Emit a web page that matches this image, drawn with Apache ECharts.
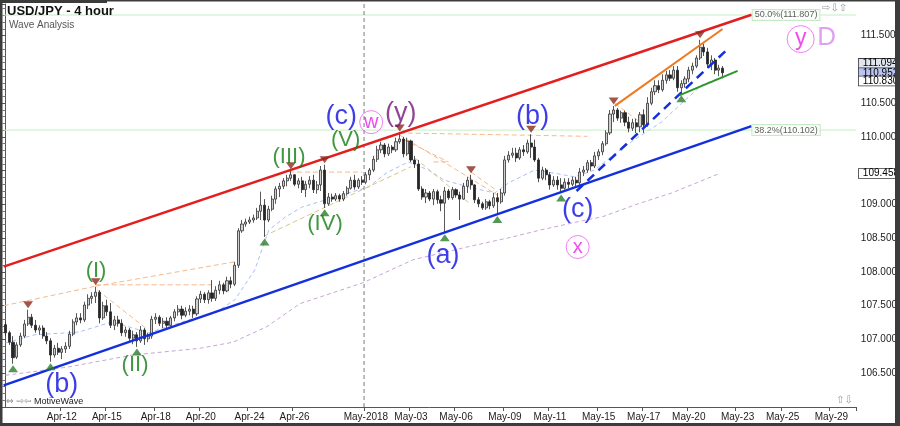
<!DOCTYPE html>
<html><head><meta charset="utf-8">
<script src="https://cdn.jsdelivr.net/npm/echarts@6/dist/echarts.min.js"></script>
<style>html,body{margin:0;padding:0;background:#fff}#c{width:900px;height:426px}</style>
</head><body><div id="c"></div>
<script>
// ---- calendar: trading days and number of 4h bars per day ----
const dayBars = [['Apr-09',3],['Apr-10',6],['Apr-11',6],['Apr-12',6],['Apr-13',6],['Apr-15',1],
['Apr-16',6],['Apr-17',6],['Apr-18',6],['Apr-19',6],['Apr-20',6],['Apr-22',1],
['Apr-23',6],['Apr-24',6],['Apr-25',6],['Apr-26',6],['Apr-27',6],['Apr-29',1],
['Apr-30',6],['May-2018',6],['May-02',6],['May-03',6],['May-04',6],['May-06',1],
['May-07',6],['May-08',6],['May-09',6],['May-10',6],['May-11',6],['May-13',1],
['May-14',6],['May-15',6],['May-16',6],['May-17',6],['May-18',6],['May-20',1],
['May-21',6],['May-22',6],['May-23',6],['May-24',6],['May-25',6],['May-27',1],
['May-28',6],['May-29',6],['May-30',1]];
const tickLabels = ['Apr-12','Apr-15','Apr-18','Apr-20','Apr-24','Apr-26','May-2018','May-03','May-06','May-09','May-11','May-15','May-17','May-20','May-23','May-25','May-29'];
const categories = [];
dayBars.forEach(([d,n]) => { for (let k=0;k<n;k++) categories.push(k===0 ? d : d+'|'+k); });

// ---- USD/JPY 4h candles [open, close, low, high] ----
const candles = [
[107.22,107.10,107.05,107.26],[107.10,106.96,106.92,107.13],[106.96,106.73,106.64,107.05],[106.74,106.92,106.71,106.96],[106.92,107.05,106.89,107.10],
[107.05,107.23,107.02,107.29],[107.23,107.33,107.20,107.44],[107.33,107.21,107.17,107.38],[107.21,107.14,107.10,107.29],[107.14,107.17,107.07,107.21],
[107.17,107.05,107.01,107.21],[107.05,106.98,106.93,107.11],[106.98,106.77,106.67,107.02],[106.77,106.87,106.73,106.92],[106.87,106.81,106.77,106.95],
[106.81,106.86,106.71,106.90],[106.86,106.90,106.80,106.96],[106.90,107.08,106.86,107.13],[107.08,107.26,107.05,107.30],[107.26,107.32,107.21,107.39],
[107.32,107.29,107.24,107.39],[107.29,107.51,107.26,107.56],[107.51,107.61,107.45,107.67],[107.61,107.64,107.53,107.70],[107.64,107.70,107.54,107.78],
[107.70,107.32,107.24,107.73],[107.32,107.50,107.29,107.56],[107.50,107.41,107.35,107.59],[107.41,107.21,107.17,107.54],[107.21,107.29,107.14,107.35],
[107.29,107.24,107.19,107.35],[107.24,107.10,107.05,107.30],[107.10,107.14,107.04,107.19],[107.14,107.02,106.98,107.17],[107.02,107.07,106.93,107.13],
[107.07,106.98,106.89,107.11],[106.98,107.14,106.95,107.20],[107.14,107.01,106.92,107.17],[107.01,107.05,106.96,107.10],[107.05,107.30,107.01,107.35],
[107.30,107.33,107.23,107.39],[107.33,107.24,107.20,107.36],[107.24,107.27,107.17,107.32],[107.27,107.21,107.17,107.33],[107.21,107.32,107.19,107.35],
[107.32,107.41,107.27,107.45],[107.41,107.45,107.35,107.51],[107.45,107.36,107.30,107.50],[107.36,107.42,107.33,107.48],[107.42,107.45,107.36,107.51],
[107.45,107.38,107.32,107.50],[107.38,107.60,107.35,107.64],[107.60,107.67,107.54,107.72],[107.67,107.59,107.54,107.70],[107.59,107.69,107.53,107.73],
[107.69,107.61,107.56,107.88],[107.61,107.73,107.57,107.79],[107.73,107.81,107.67,107.87],[107.81,107.72,107.67,107.84],[107.72,107.87,107.70,107.93],
[107.87,107.82,107.76,107.93],[107.82,108.10,107.79,108.15],[108.10,108.61,108.06,108.65],[108.61,108.71,108.58,108.77],[108.71,108.74,108.67,108.79],
[108.74,108.77,108.71,108.82],[108.77,108.80,108.73,108.85],[108.80,108.90,108.77,108.95],[108.90,108.99,108.77,109.19],[108.99,108.77,108.52,109.08],
[108.77,108.93,108.74,108.98],[108.93,109.08,108.90,109.13],[109.08,109.23,109.01,109.27],[109.23,109.27,109.11,109.32],[109.27,109.35,109.23,109.39],
[109.35,109.39,109.27,109.44],[109.39,109.44,109.35,109.50],[109.44,109.30,109.27,109.45],[109.30,109.35,109.24,109.39],[109.35,109.22,109.17,109.41],
[109.22,109.30,109.11,109.35],[109.30,109.36,109.24,109.42],[109.36,109.22,109.17,109.44],[109.22,109.29,109.16,109.35],[109.29,109.51,109.20,109.57],
[109.51,109.01,108.95,109.59],[109.01,109.11,108.98,109.17],[109.11,109.08,109.04,109.16],[109.08,109.13,109.05,109.17],[109.13,109.08,109.04,109.16],
[109.08,109.16,109.05,109.20],[109.16,109.24,109.13,109.27],[109.24,109.36,109.22,109.41],[109.36,109.26,109.22,109.44],[109.26,109.36,109.23,109.39],
[109.36,109.33,109.29,109.42],[109.33,109.44,109.30,109.48],[109.44,109.51,109.36,109.54],[109.51,109.67,109.48,109.72],[109.67,109.81,109.63,109.87],
[109.81,109.88,109.76,109.93],[109.88,109.75,109.70,109.91],[109.75,109.85,109.72,109.90],[109.85,109.81,109.76,109.88],[109.81,109.93,109.78,109.99],
[109.93,109.97,109.90,110.06],[109.97,109.75,109.70,110.00],[109.75,109.94,109.72,109.99],[109.94,109.66,109.63,109.96],[109.66,109.60,109.54,109.72],
[109.60,109.23,109.20,109.66],[109.23,109.11,109.07,109.27],[109.11,109.17,109.02,109.23],[109.17,109.08,109.05,109.20],[109.08,109.19,108.99,109.23],
[109.19,109.07,109.01,109.22],[109.07,109.02,108.90,109.13],[109.02,109.20,108.58,109.26],[109.20,109.10,109.07,109.23],[109.10,109.22,109.07,109.26],
[109.22,109.14,109.10,109.24],[109.14,109.08,108.77,109.19],[109.08,109.27,109.07,109.32],[109.27,109.36,109.17,109.41],[109.36,109.29,109.22,109.44],
[109.29,109.07,109.02,109.30],[109.07,109.01,108.96,109.11],[109.01,108.95,108.92,109.04],[108.95,109.04,108.92,109.08],[109.04,108.98,108.93,109.07],
[108.98,109.10,108.95,109.17],[109.10,109.04,108.85,109.17],[109.04,109.17,109.01,109.23],[109.17,109.66,109.13,109.72],[109.66,109.73,109.62,109.79],
[109.73,109.76,109.69,109.84],[109.76,109.69,109.63,109.84],[109.69,109.81,109.66,109.85],[109.81,109.78,109.72,109.88],[109.78,109.91,109.75,109.96],
[109.91,109.85,109.69,110.04],[109.85,109.66,109.63,109.96],[109.66,109.39,109.33,109.69],[109.39,109.51,109.36,109.56],[109.51,109.44,109.36,109.54],
[109.44,109.29,109.22,109.48],[109.29,109.36,109.26,109.42],[109.36,109.29,109.22,109.42],[109.29,109.24,109.17,109.39],[109.24,109.33,109.22,109.39],
[109.33,109.30,109.24,109.39],[109.30,109.36,109.27,109.41],[109.36,109.32,109.27,109.41],[109.32,109.48,109.29,109.54],[109.48,109.51,109.42,109.57],
[109.51,109.62,109.47,109.66],[109.62,109.57,109.50,109.66],[109.57,109.72,109.54,109.78],[109.72,109.78,109.66,109.82],[109.78,109.90,109.73,109.94],
[109.90,110.06,109.87,110.10],[110.06,110.34,110.03,110.40],[110.34,110.40,110.22,110.46],[110.40,110.28,110.24,110.43],[110.28,110.36,110.21,110.39],
[110.36,110.22,110.16,110.39],[110.22,110.13,110.07,110.30],[110.13,110.21,110.09,110.27],[110.21,110.15,110.06,110.27],[110.15,110.33,110.07,110.37],
[110.33,110.18,110.06,110.41],[110.18,110.50,110.15,110.59],[110.50,110.67,110.47,110.73],[110.67,110.76,110.62,110.84],[110.76,110.70,110.65,110.84],
[110.70,110.84,110.67,110.93],[110.84,110.92,110.79,110.98],[110.92,110.87,110.83,110.99],[110.87,110.99,110.84,111.05],[110.99,110.73,110.67,111.05],
[110.73,110.79,110.64,110.84],[110.79,110.86,110.73,110.90],[110.86,110.99,110.81,111.04],[110.99,111.05,110.93,111.10],[111.05,111.17,111.02,111.21],
[111.17,111.33,111.14,111.44],[111.33,111.26,111.20,111.38],[111.26,111.08,111.02,111.32],[111.08,111.14,110.99,111.21],[111.14,110.99,110.93,111.17],
[110.99,111.02,110.90,111.07],[111.02,110.95,110.87,111.05]
];

// swing markers (bar indices)
const swingHighs = [6,24,76,85,105,124,140,162,185];
const swingLows  = [2,12,35,69,85,117,131,148,180];

// moving averages [bar, price]
const fastMA = [[0,106.95],[7.8,107.07],[19.5,107.11],[28.3,107.26],[38.2,107.10],[48.8,107.29],[55.7,107.39],[61.1,107.59],
[66.4,108.03],[70.1,108.62],[74.4,108.81],[78.9,108.96],[87.7,109.11],[96.7,109.26],[101.5,109.47],[107.3,109.63],
[112.7,109.51],[116.9,109.36],[123.3,109.26],[130.3,109.17],[134,109.32],[140.9,109.51],[145.5,109.47],[151.6,109.41],
[156.9,109.51],[161.4,109.71],[167.5,109.96],[174.7,110.22],[180.1,110.50],[185.5,110.77],[190.7,110.89]];
const slowMA = [[0,106.47],[16.4,106.59],[33.9,106.77],[51.8,106.87],[60.6,106.96],[69.6,107.19],[78.4,107.53],[95.2,107.84],
[108.5,108.18],[122.9,108.37],[135.1,108.52],[142.3,108.62],[153.8,108.76],[159.1,108.82],[169,109.02],[177.4,109.17],[190.2,109.46]];

// trend lines [bar, price]
const redChannel   = [[-0.5,108.08],[198.7,111.81]];
const blueChannel  = [[-0.5,106.32],[198.7,110.16]];
const orangeTrend  = [[162.3,110.46],[191.0,111.60]];
const blueDashed   = [[152.1,109.20],[192.1,111.29]];
const greenTrend   = [[179.6,110.62],[195.0,110.98]];
const zigzagOrange = [
 [[-0.5,107.50],[24,107.79]], [[24,107.79],[62,108.16]], [[24,107.81],[55,107.81]], [[24.5,107.73],[38,107.14]],
 [[75.5,109.48],[95,109.48]], [[105,110.06],[155,110.01]], [[105,110.03],[131,109.14]], [[106,109.96],[118,109.63]],
 [[114,109.63],[118,109.63]], [[124,109.48],[131,109.20]], [[162.3,110.50],[170,110.18]]];
const zigzagTan = [ [[68.8,108.53],[108,109.56]], [[107.5,109.76],[123.5,109.02]] ];

const fibLevels = [['50.0%(111.807)',111.807],['38.2%(110.102)',110.102]];
const priceTags = [['111.094',111.094,'#dfe6ee'],['110.952',110.952,'#bcc4f2'],['110.830',110.830,'#ffffff'],['109.458',109.458,'#ffffff']];
const hiddenAxisLabels = [106, 109.5, 111];

// wave labels [text, bar, price, kind]
const waveLabels = [
 ['(b)',15.0,106.33,'blue'],['(I)',24.1,108.02,'green'],['(II)',34.5,106.62,'green'],['(III)',75.5,109.70,'green'],
 ['(IV)',85.1,108.71,'green'],['(V)',90.6,109.96,'green'],['(c)',89.4,110.30,'blue'],['w',97.4,110.22,'circle'],
 ['(y)',105.3,110.35,'purple'],['(a)',116.5,108.24,'blue'],['(b)',140.4,110.31,'blue'],['(c)',152.4,108.92,'blue'],
 ['x',152.4,108.37,'circle'],['y',211.8,111.45,'circleBig'],['D',218.7,111.47,'lavender']];

const FONT = '"Liberation Sans", Arial, sans-serif';
const N = categories.length;
const seg = (data, color, width, type, z) => ({
  type:'line', xAxisIndex:1, yAxisIndex:0, data, symbol:'none', silent:true, z:z||3,
  lineStyle:{color, width, type: type||'solid'}, animation:false
});

const kindStyle = {
  blue:{color:'#0c0ce4', fontSize:27}, green:{color:'#127d12', fontSize:22}, purple:{color:'#74157a', fontSize:27},
  circle:{color:'#ec1eec', fontSize:20}, circleBig:{color:'#ec1eec', fontSize:23}, lavender:{color:'#d68aee', fontSize:26}
};

const series = [];
series.push(seg(slowMA,'#c9a3d9',1,[4,3],1));
series.push(seg(fastMA,'#a9bff2',1,[4,3],1));
zigzagOrange.forEach(d => series.push(seg(d,'#f5b98c',1,[5,3],1)));
zigzagTan.forEach(d => series.push(seg(d,'#d9c48a',1,[5,3],1)));
fibLevels.forEach(f => series.push(seg([[-0.5,f[1]],[N-0.5,f[1]]],'#c4eec4',1,'solid',1)));
series.push(seg([[95.5,106],[95.5,111.97]],'#7a7a7a',1,[4,3],1));

series.push({
  type:'candlestick', xAxisIndex:0, yAxisIndex:0, data:candles, barWidth:2.6, z:2,
  itemStyle:{color:'#d0d0d0', color0:'#262626', borderColor:'#303030', borderColor0:'#262626', borderWidth:0.8},
  markLine:{ silent:true, symbol:['none','none'], animation:false,
    lineStyle:{color:'rgba(0,0,0,0)', width:0},
    data: priceTags.map(t => ({yAxis:t[1], label:{show:true, position:'end', distance:3, formatter:t[0],
      fontSize:10, fontFamily:FONT, color:'#000', backgroundColor:t[2], borderColor:'#3a3a3a', borderWidth:0.8,
      padding:[0,2,0,4], lineHeight:9}}))
  }
});

series.push(seg(redChannel,'#e31e1e',2.5));
series.push(seg(blueChannel,'#1430dc',2.5));
series.push(seg(orangeTrend,'#f0781e',2));
series.push(seg(blueDashed,'#1430dc',2.5,[9,6]));
series.push(seg(greenTrend,'#2a962a',2));

series.push({type:'scatter', xAxisIndex:0, yAxisIndex:0, z:4, symbol:'triangle', symbolSize:[10,7], symbolRotate:180,
  symbolOffset:[0,-5], itemStyle:{color:'#8a2b1e'}, data: swingHighs.map(i => [i, candles[i][3]])});
series.push({type:'scatter', xAxisIndex:0, yAxisIndex:0, z:4, symbol:'triangle', symbolSize:[10,7],
  symbolOffset:[0,5], itemStyle:{color:'#2a7d2a'}, data: swingLows.map(i => [i, candles[i][2]])});

series.push({type:'scatter', xAxisIndex:1, yAxisIndex:0, z:5, silent:true,
  data: waveLabels.map(w => {
    const s = kindStyle[w[3]]; const circ = w[3].startsWith('circle');
    return {value:[w[1], w[2]], symbol:'circle', symbolSize: circ ? (w[3]==='circleBig'?27:23) : 1,
      itemStyle: circ ? {color:'rgba(255,255,255,0)', borderColor:'#f05cf0', borderWidth:1} : {color:'rgba(0,0,0,0)'},
      label:{show:true, position:'inside', formatter:w[0], color:s.color, fontSize:s.fontSize, fontFamily:FONT}};
  })});

series.push({type:'scatter', xAxisIndex:1, yAxisIndex:0, z:5, silent:true,
  data: fibLevels.map(f => ({value:[207.9, f[1]], symbolSize:1, itemStyle:{color:'rgba(0,0,0,0)'},
    label:{show:true, position:'inside', formatter:f[0], fontSize:9, fontFamily:FONT, color:'#333',
      backgroundColor:'#ffffff', borderColor:'#b5e6b5', borderWidth:1, padding:[1,2,0,2]}}))});

const option = {
  animation:false,
  textStyle:{fontFamily:FONT},
  grid:{left:3.66, right:900-3.66-N*3.756, top:4, bottom:19, containLabel:false},
  xAxis:[
    {type:'category', data:categories, boundaryGap:true,
     axisLine:{lineStyle:{color:'#555'}},
     axisTick:{show:true, length:4, interval:(i,v)=>tickLabels.includes(v), lineStyle:{color:'#555'}},
     axisLabel:{interval:(i,v)=>tickLabels.includes(v), formatter:v=>v.includes('|')?'':v, fontSize:10, color:'#222', margin:5, fontFamily:FONT},
     splitLine:{show:false}},
    {type:'value', min:-0.5, max:N-0.5, show:false}
  ],
  yAxis:[{type:'value', position:'right', min:106, max:111.97, interval:0.5,
    axisLine:{show:true, lineStyle:{color:'#555'}},
    axisTick:{show:true, inside:true, length:5, lineStyle:{color:'#555'}},
    minorTick:{show:true, splitNumber:5, length:3, lineStyle:{color:'#777'}},
    splitLine:{show:false},
    axisLabel:{margin:5, fontSize:10, color:'#222', fontFamily:FONT, showMaxLabel:false,
      formatter:v => { const r = Math.round(v*2)/2; if (Math.abs(v-r)>1e-6 || hiddenAxisLabels.some(h => Math.abs(v-h)<1e-6)) return ''; return v.toFixed(3);} }}],
  series,
  graphic:[
    {type:'text', left:7, top:5, z:10, style:{text:'USD/JPY - 4 hour', font:'bold 13px '+FONT, fill:'#111'}},
    {type:'text', left:9, top:20, z:10, style:{text:'Wave Analysis', font:'10px '+FONT, fill:'#555'}},
    {type:'text', left:6, top:397, z:10, style:{text:'\u21D4 \u21E8\u21E6', font:'9px "DejaVu Sans"', fill:'#888'}},
    {type:'text', left:34, top:397, z:10, style:{text:'MotiveWave', font:'9px '+FONT, fill:'#222'}},
    {type:'text', left:836, top:395, z:10, style:{text:'\u21E7\u21E9', font:'10px "DejaVu Sans"', fill:'#999'}},
    {type:'text', left:822, top:3, z:10, style:{text:'\u21E8\u21E9\u21E7', font:'10px "DejaVu Sans"', fill:'#999'}},
    {type:'rect', left:0, top:0, z:20, shape:{width:2.5, height:426}, style:{fill:'#3c3c3c'}},
    {type:'rect', left:0, top:0, z:20, shape:{width:900, height:1.5}, style:{fill:'#3c3c3c'}},
    {type:'rect', left:0, top:0, z:20, shape:{width:107, height:3}, style:{fill:'#3c3c3c'}},
    {type:'rect', left:895, top:0, z:20, shape:{width:5, height:426}, style:{fill:'#3c3c3c'}},
    {type:'rect', left:0, top:423, z:20, shape:{width:900, height:3}, style:{fill:'#3c3c3c'}}
  ]
};
const chart = echarts.init(document.getElementById('c'), null, {renderer:'canvas'});
chart.setOption(option);
</script></body></html>
